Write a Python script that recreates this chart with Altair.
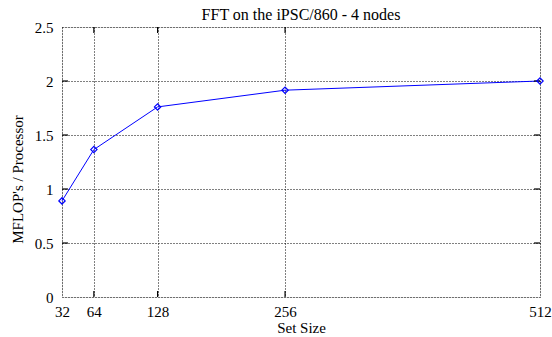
import altair as alt
import pandas as pd

set_size = [32, 64, 128, 256, 512]
mflops = [0.89, 1.365, 1.76, 1.915, 2.0]
x_ticks = [32, 64, 128, 256, 512]
y_ticks = [0, 0.5, 1, 1.5, 2, 2.5]

df = pd.DataFrame({"n": set_size, "v": mflops})
FONT = "Liberation Serif"

xs = alt.Scale(domain=[32, 512], nice=False, zero=False)
ys = alt.Scale(domain=[0, 2.5], nice=False)

# tick marks drawn inward (gnuplot style), from the tick arrays
xt = pd.DataFrame({"n": x_ticks[1:-1]})
yt = pd.DataFrame({"v": y_ticks[1:-1]})
X_TICK_LEN = 0.055   # data units in y
Y_TICK_LEN = 6.0     # data units in x

base = alt.Chart(df)

line = base.mark_line(color="#0000ff", strokeWidth=1).encode(
    x=alt.X("n:Q", scale=xs,
            axis=alt.Axis(values=x_ticks, title="Set Size", grid=True,
                          gridDash=[1, 2], gridColor="black", gridOpacity=1,
                          ticks=False, domain=False, labelPadding=7,
                          labelFontSize=15, titleFontSize=15, titleFontWeight="normal",
                          titleY=35, titleBaseline="alphabetic",
                          labelFont=FONT, titleFont=FONT,
                          labelColor="black", titleColor="black", labelFlush=False)),
    y=alt.Y("v:Q", scale=ys,
            axis=alt.Axis(values=y_ticks, title="MFLOP's / Processor", grid=True,
                          gridDash=[1, 2], gridColor="black", gridOpacity=1,
                          ticks=False, domain=False, labelPadding=9,
                          labelFontSize=15, titleFontSize=15, titleFontWeight="normal",
                          titleX=-40, titleY=152, titleBaseline="alphabetic",
                          titleAnchor="middle",
                          labelFont=FONT, titleFont=FONT,
                          labelColor="black", titleColor="black", labelFlush=False,
                          format="~g")),
)

pts = base.mark_point(shape="diamond", color="#0000ff", filled=False, size=40,
                      strokeWidth=1.2, opacity=1).encode(
    x=alt.X("n:Q", scale=xs), y=alt.Y("v:Q", scale=ys))

xt_bot = alt.Chart(xt).transform_calculate(y0="0", y1=f"{X_TICK_LEN}").mark_rule(
    color="black", strokeWidth=1.2).encode(
    x=alt.X("n:Q", scale=xs), y=alt.Y("y0:Q", scale=ys), y2="y1:Q")
xt_top = alt.Chart(xt).transform_calculate(y0="2.5", y1=f"{2.5 - X_TICK_LEN}").mark_rule(
    color="black", strokeWidth=1.2).encode(
    x=alt.X("n:Q", scale=xs), y=alt.Y("y0:Q", scale=ys), y2="y1:Q")
yt_left = alt.Chart(yt).transform_calculate(x0="32", x1=f"{32 + Y_TICK_LEN}").mark_rule(
    color="black", strokeWidth=1.2).encode(
    y=alt.Y("v:Q", scale=ys), x=alt.X("x0:Q", scale=xs), x2="x1:Q")
yt_right = alt.Chart(yt).transform_calculate(x0="512", x1=f"{512 - Y_TICK_LEN}").mark_rule(
    color="black", strokeWidth=1.2).encode(
    y=alt.Y("v:Q", scale=ys), x=alt.X("x0:Q", scale=xs), x2="x1:Q")

chart = alt.layer(line, xt_bot, xt_top, yt_left, yt_right, pts).properties(
    width=478, height=270,
    title=alt.TitleParams("FFT on the iPSC/860 - 4 nodes", font=FONT, fontSize=16,
                          fontWeight="normal", color="black", offset=0, dy=3),
    autosize=alt.AutoSizeParams(type="none"),
    padding={"left": 62, "top": 27, "right": 12, "bottom": 40},
).configure_view(stroke="black", strokeWidth=1.5).configure(background="white")

chart.save("out.html", embed_options={"renderer": "svg", "actions": False})
